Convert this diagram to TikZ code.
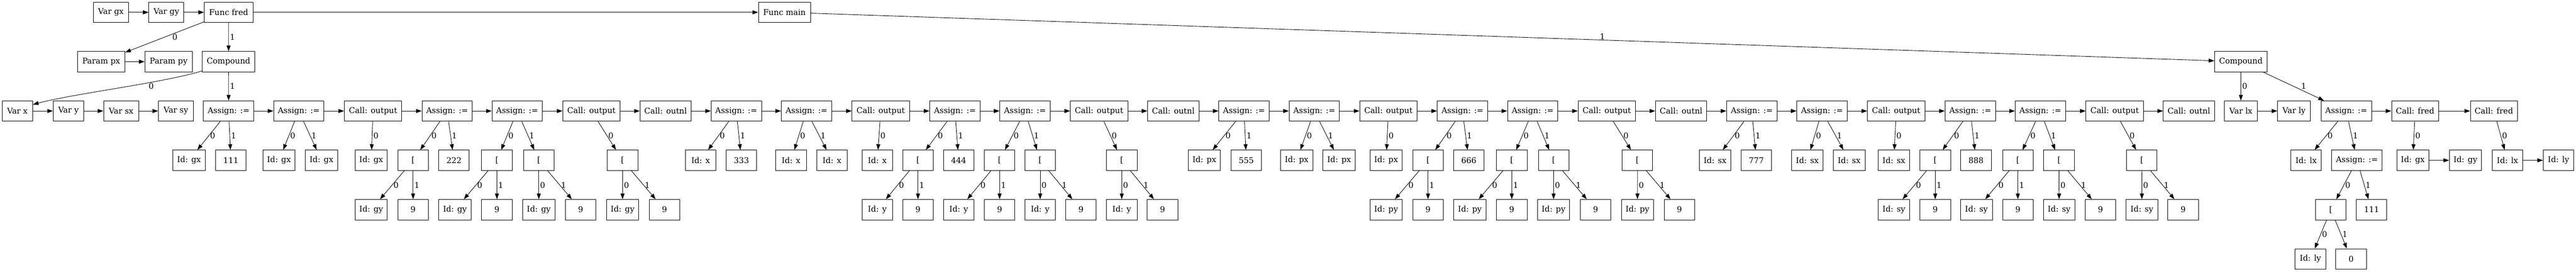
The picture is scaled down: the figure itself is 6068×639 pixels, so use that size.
\documentclass[tikz,border=0pt]{standalone}
\usepackage{fontspec}
\setmainfont{DejaVu Serif}
\usetikzlibrary{arrows.meta}
\tikzset{
  nd/.style={draw, rectangle, minimum height=36pt, inner sep=0pt, line width=0.8pt, font=\fontsize{14pt}{17pt}\selectfont},
  w54/.style={nd, minimum width=54pt},
  w56/.style={nd, minimum width=56pt},
  w57/.style={nd, minimum width=57pt},
  w58/.style={nd, minimum width=58.1pt},
  w62/.style={nd, minimum width=61.9pt},
  asg/.style={nd, minimum width=89pt},
  cout/.style={nd, minimum width=101.4pt},
  cnl/.style={nd, minimum width=90.5pt},
  cfr/.style={nd, minimum width=83.1pt},
  ffr/.style={nd, minimum width=86pt},
  fmn/.style={nd, minimum width=92pt},
  prm/.style={nd, minimum width=84pt},
  cmp/.style={nd, minimum width=92.9pt},
  e/.style={-{Triangle[length=10pt,width=7pt]}, line width=0.8pt},
  lab/.style={midway, anchor=west, inner sep=2pt, font=\fontsize{14pt}{17pt}\selectfont},
  labx/.style={inner sep=1pt, font=\fontsize{14pt}{17pt}\selectfont}
}
\begin{document}
\begin{tikzpicture}[x=0.75pt, y=-0.75pt]
\useasboundingbox (0,0) rectangle (6068,639);
% row 1
\node[w62] (vgx) at (261.2,29) {Var gx};
\node[w62] (vgy) at (391.9,29) {Var gy};
\node[ffr] (ffred) at (538.6,29) {Func fred};
\node[fmn] (fmain) at (1847.8,29) {Func main};
% row 2
\node[prm] (ppx) at (238.4,145) {Param px};
\node[prm] (ppy) at (397.2,145) {Param py};
\node[cmp] (cfred) at (538.4,145) {Compound};
\node[cmp] (cmain) at (5278.5,145) {Compound};
% row 3
\node[w54] (vx) at (40.9,261) {Var x};
\node[w54] (vy) at (161.3,261) {Var y};
\node[w62] (vsx) at (285.3,261) {Var sx};
\node[w62] (vsy) at (414.4,261) {Var sy};
\node[asg] (a1) at (538.6,261) {Assign: :=};
\node[asg] (a2) at (703.8,261) {Assign: :=};
\node[cout] (c1) at (878.8,261) {Call: output};
\node[asg] (a3) at (1053.3,261) {Assign: :=};
\node[asg] (a4) at (1218.3,261) {Assign: :=};
\node[cout] (c2) at (1393.2,261) {Call: output};
\node[cnl] (n1) at (1567.9,261) {Call: outnl};
\node[asg] (a5) at (1734.4,261) {Assign: :=};
\node[asg] (a6) at (1899.8,261) {Assign: :=};
\node[cout] (c3) at (2074.6,261) {Call: output};
\node[asg] (a7) at (2249.4,261) {Assign: :=};
\node[asg] (a8) at (2414.5,261) {Assign: :=};
\node[cout] (c4) at (2589,261) {Call: output};
\node[cnl] (n2) at (2763.8,261) {Call: outnl};
\node[asg] (a9) at (2930.4,261) {Assign: :=};
\node[asg] (a10) at (3095.9,261) {Assign: :=};
\node[cout] (c5) at (3270.5,261) {Call: output};
\node[asg] (a11) at (3445,261) {Assign: :=};
\node[asg] (a12) at (3610.4,261) {Assign: :=};
\node[cout] (c6) at (3784.9,261) {Call: output};
\node[cnl] (n3) at (3960,261) {Call: outnl};
\node[asg] (a13) at (4126.5,261) {Assign: :=};
\node[asg] (a14) at (4291.9,261) {Assign: :=};
\node[cout] (c7) at (4466.5,261) {Call: output};
\node[asg] (a15) at (4641.1,261) {Assign: :=};
\node[asg] (a16) at (4806.2,261) {Assign: :=};
\node[cout] (c8) at (4981.3,261) {Call: output};
\node[cnl] (n4) at (5156.1,261) {Call: outnl};
\node[w58] (vlx) at (5278.5,261) {Var lx};
\node[w58] (vly) at (5403.8,261) {Var ly};
\node[asg] (ma) at (5526.8,261) {Assign: :=};
\node[cfr] (cf1) at (5688.9,261) {Call: fred};
\node[cfr] (cf2) at (5874.6,261) {Call: fred};
% row 4
\node[w57] (k1a) at (445.2,377) {Id: gx};
\node[w54] (k1b) at (543.9,377) {111};
\node[w57] (k2a) at (657.1,377) {Id: gx};
\node[w57] (k2b) at (757.2,377) {Id: gx};
\node[w57] (k3a) at (874.4,377) {Id: gx};
\node[w54] (k4a) at (973.1,377) {[};
\node[w54] (k4b) at (1069.4,377) {222};
\node[w54] (k5a) at (1170.6,377) {[};
\node[w54] (k5b) at (1269.2,377) {[};
\node[w54] (k6a) at (1466.5,377) {[};
\node[w54] (k7a) at (1650.4,377) {Id: x};
\node[w54] (k7b) at (1746.5,377) {333};
\node[w54] (k8a) at (1863.5,377) {Id: x};
\node[w54] (k8b) at (1959.7,377) {Id: x};
\node[w54] (k9a) at (2066.5,377) {Id: x};
\node[w54] (k10a) at (2162.4,377) {[};
\node[w54] (k10b) at (2258.3,377) {444};
\node[w54] (k11a) at (2354.6,377) {[};
\node[w54] (k11b) at (2450.2,377) {[};
\node[w54] (k12a) at (2642.4,377) {[};
\node[w57] (k13a) at (2836.9,377) {Id: px};
\node[w54] (k13b) at (2935.8,377) {555};
\node[w57] (k14a) at (3054.4,377) {Id: px};
\node[w57] (k14b) at (3154.4,377) {Id: px};
\node[w57] (k15a) at (3265.1,377) {Id: px};
\node[w54] (k16a) at (3363.8,377) {[};
\node[w54] (k16b) at (3459.9,377) {666};
\node[w54] (k17a) at (3561.1,377) {[};
\node[w54] (k17b) at (3659.7,377) {[};
\node[w54] (k18a) at (3857,377) {[};
\node[w56] (k19a) at (4039.9,377) {Id: sx};
\node[w54] (k19b) at (4137.2,377) {777};
\node[w56] (k20a) at (4257.3,377) {Id: sx};
\node[w56] (k20b) at (4355.8,377) {Id: sx};
\node[w56] (k21a) at (4461.2,377) {Id: sx};
\node[w54] (k22a) at (4558.6,377) {[};
\node[w54] (k22b) at (4654.7,377) {888};
\node[w54] (k23a) at (4753.2,377) {[};
\node[w54] (k23b) at (4850.2,377) {[};
\node[w54] (k24a) at (5045.2,377) {[};
\node[w54] (m1a) at (5432.2,377) {Id: lx};
\node[asg] (m1b) at (5551.9,377) {Assign: :=};
\node[w57] (m2a) at (5683.6,377) {Id: gx};
\node[w57] (m2b) at (5807.5,377) {Id: gy};
\node[w54] (m3a) at (5906.6,377) {Id: lx};
\node[w54] (m3b) at (6026.8,377) {Id: ly};
% row 5
\node[w57] (g4a) at (874.4,493) {Id: gy};
\node[w54] (g4b) at (973.1,493) {9};
\node[w57] (g5a) at (1071.7,493) {Id: gy};
\node[w54] (g5b) at (1170.6,493) {9};
\node[w57] (g5c) at (1269.2,493) {Id: gy};
\node[w54] (g5d) at (1367.7,493) {9};
\node[w57] (g6a) at (1466.5,493) {Id: gy};
\node[w54] (g6b) at (1565.2,493) {9};
\node[w54] (g10a) at (2066.5,493) {Id: y};
\node[w54] (g10b) at (2162.4,493) {9};
\node[w54] (g11a) at (2258.3,493) {Id: y};
\node[w54] (g11b) at (2354.6,493) {9};
\node[w54] (g11c) at (2450.2,493) {Id: y};
\node[w54] (g11d) at (2546.3,493) {9};
\node[w54] (g12a) at (2642.4,493) {Id: y};
\node[w54] (g12b) at (2738.5,493) {9};
\node[w57] (g16a) at (3265.1,493) {Id: py};
\node[w54] (g16b) at (3363.8,493) {9};
\node[w57] (g17a) at (3462.4,493) {Id: py};
\node[w54] (g17b) at (3561.1,493) {9};
\node[w57] (g17c) at (3659.5,493) {Id: py};
\node[w54] (g17d) at (3758.6,493) {9};
\node[w57] (g18a) at (3857.2,493) {Id: py};
\node[w54] (g18b) at (3955.9,493) {9};
\node[w56] (g22a) at (4461.2,493) {Id: sy};
\node[w54] (g22b) at (4558.6,493) {9};
\node[w56] (g23a) at (4655.7,493) {Id: sy};
\node[w54] (g23b) at (4753.2,493) {9};
\node[w56] (g23c) at (4850.4,493) {Id: sy};
\node[w54] (g23d) at (4947.9,493) {9};
\node[w56] (g24a) at (5045.4,493) {Id: sy};
\node[w54] (g24b) at (5142.6,493) {9};
\node[w54] (h1a) at (5490.5,493) {[};
\node[w54] (h1b) at (5586.4,493) {111};
% row 6
\node[w54] (j1a) at (5442.4,609) {Id: ly};
\node[w54] (j1b) at (5538.3,609) {0};
% sibling chains
\foreach \s/\t in {vgx/vgy, vgy/ffred, ffred/fmain, ppx/ppy, vx/vy, vy/vsx, vsx/vsy,
  a1/a2, a2/c1, c1/a3, a3/a4, a4/c2, c2/n1, n1/a5, a5/a6, a6/c3, c3/a7, a7/a8, a8/c4, c4/n2,
  n2/a9, a9/a10, a10/c5, c5/a11, a11/a12, a12/c6, c6/n3, n3/a13, a13/a14, a14/c7, c7/a15,
  a15/a16, a16/c8, c8/n4, vlx/vly, ma/cf1, cf1/cf2, m2a/m2b, m3a/m3b}
  {\draw[e] (\s) -- (\t);}
% two-child edges
\foreach \p/\l/\r in {a1/k1a/k1b, a2/k2a/k2b, a3/k4a/k4b, a4/k5a/k5b,
  a5/k7a/k7b, a6/k8a/k8b, a7/k10a/k10b, a8/k11a/k11b,
  a9/k13a/k13b, a10/k14a/k14b, a11/k16a/k16b, a12/k17a/k17b,
  a13/k19a/k19b, a14/k20a/k20b, a15/k22a/k22b, a16/k23a/k23b,
  k4a/g4a/g4b, k5a/g5a/g5b, k5b/g5c/g5d, k6a/g6a/g6b,
  k10a/g10a/g10b, k11a/g11a/g11b, k11b/g11c/g11d, k12a/g12a/g12b,
  k16a/g16a/g16b, k17a/g17a/g17b, k17b/g17c/g17d, k18a/g18a/g18b,
  k22a/g22a/g22b, k23a/g23a/g23b, k23b/g23c/g23d, k24a/g24a/g24b,
  ma/m1a/m1b, m1b/h1a/h1b, h1a/j1a/j1b}
  {\draw[e] (\p) -- (\l) node[lab] {0};
   \draw[e] (\p) -- (\r) node[lab] {1};}
% one-child edges
\foreach \p/\c in {c1/k3a, c2/k6a, c3/k9a, c4/k12a, c5/k15a, c6/k18a, c7/k21a, c8/k24a,
  cf1/m2a, cf2/m3a, cmain/vlx}
  {\draw[e] (\p) -- (\c) node[lab] {0};}
\draw[e] (ffred) -- (cfred) node[lab] {1};
\draw[e] (cfred) -- (a1) node[lab] {1};
% special edges
\draw[e] (ffred) -- (ppx) node[labx, pos=0.37, below] {0};
\draw[e] ([yshift=2pt]cfred.south west) .. controls (376.5,196.3) and (177,219.5) .. ([yshift=-7pt]vx.north east)
  node[labx, pos=0.32, below] {0};
\draw[e] (fmain) -- (cmain) node[labx, pos=0.564, above] {1};
\draw[e] (cmain) -- (ma) node[lab, xshift=11pt] {1};
\end{tikzpicture}
\end{document}
